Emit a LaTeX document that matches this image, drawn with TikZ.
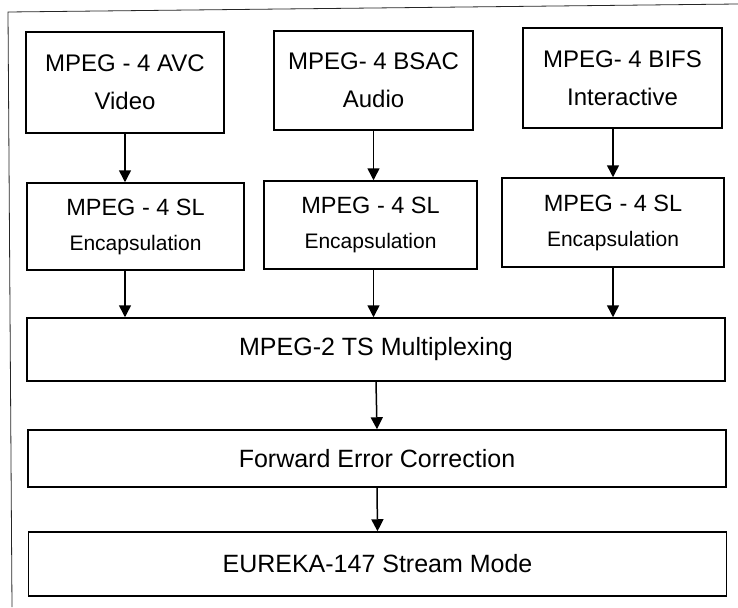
\documentclass[tikz,border=0pt]{standalone}
\usepackage{fontspec}
\setmainfont{Liberation Sans}
\usetikzlibrary{arrows.meta}
\begin{document}
\begin{tikzpicture}[x=1pt,y=-1pt,
  box/.style={draw, line width=1.5pt, inner sep=0pt, align=center, font=\fontsize{24}{38}\selectfont},
  slbox/.style={box, font=\fontsize{23.5}{35}\selectfont},
  wide/.style={box, minimum width=698pt, font=\fontsize{25}{30}\selectfont},
  arr/.style={line width=1.5pt, -{Triangle[length=12pt,width=12pt]}},
  frame/.style={line width=0.8pt, black!85}]
\useasboundingbox (0,0) rectangle (738,607);
% outer frame (partly visible)
\coordinate (ftr) at (738,4);
\coordinate (ftl) at (8,12);
\coordinate (fbl) at (12,607);
\draw[frame] (ftr) -- (ftl) -- (fbl);
% top row
\node[box, minimum width=198pt, minimum height=101pt] (A1) at (125,82.5) {MPEG - 4 AVC\\Video};
\node[box, minimum width=199pt, minimum height=99pt] (A2) at (373.5,80.5) {MPEG- 4 BSAC\\Audio};
\node[box, minimum width=199pt, minimum height=100pt] (A3) at (622.5,78) {MPEG- 4 BIFS\\Interactive};
% SL row
\node[slbox, minimum width=217pt, minimum height=87pt] (S1) at (135.5,226.5) {MPEG - 4 SL\\{\fontsize{21}{35}\selectfont Encapsulation}};
\node[slbox, minimum width=213pt, minimum height=88pt] (S2) at (370.5,225) {MPEG - 4 SL\\{\fontsize{21}{35}\selectfont Encapsulation}};
\node[slbox, minimum width=222pt, minimum height=89pt] (S3) at (613,222.5) {MPEG - 4 SL\\{\fontsize{21}{35}\selectfont Encapsulation}};
% wide boxes
\node[wide, minimum height=63pt] (TS) at (376,349.5) {MPEG-2 TS Multiplexing};
\node[wide, minimum height=57pt] (FEC) at (377,458.5) {Forward Error Correction};
\node[wide, minimum height=64pt] (EU) at (377.5,564) {EUREKA-147 Stream Mode};
% arrows
\draw[arr] (A1.south) -- (A1.south |- S1.north);
\draw[arr] (A2.south) -- (A2.south |- S2.north);
\draw[arr] (A3.south -| S3.north) -- (S3.north);
\draw[arr] (S1.south -| A1.south) -- (TS.north -| A1.south);
\draw[arr] (S2.south -| A2.south) -- (TS.north -| A2.south);
\draw[arr] (S3.south) -- (TS.north -| S3.south);
\draw[arr] (TS.south) -- (FEC.north);
\draw[arr] (FEC.south) -- (EU.north);
\end{tikzpicture}
\end{document}
